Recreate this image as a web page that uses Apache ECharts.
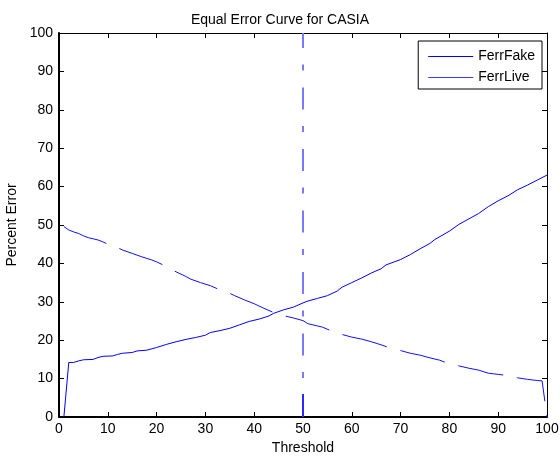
<!DOCTYPE html>
<html>
<head>
<meta charset="utf-8">
<title>Equal Error Curve for CASIA</title>
<script src="https://cdn.jsdelivr.net/npm/echarts@6/dist/echarts.min.js"></script>
<style>
  html, body { margin: 0; padding: 0; background: #fff; }
  #E1 { width: 560px; height: 458px; }
</style>
</head>
<body>
<div id="E1"></div>
<script>
// data
var fakeX = [1, 2, 3, 4, 5, 7, 8, 9, 11, 12, 13, 15, 16, 18, 20, 22, 24, 26, 28, 30,
    31, 33, 35, 37, 39, 41, 43, 44, 46, 48, 50, 51, 53, 55, 57, 58, 60, 62, 64, 66,
    67, 70, 72, 74, 76, 77, 80, 82, 84, 86, 88, 90, 92, 94, 96, 98, 100];
var fakeY = [0, 14.2, 14.2, 14.6, 14.9, 15.0, 15.5, 15.8, 15.9, 16.3, 16.6, 16.8, 17.2, 17.4, 18.1, 18.9, 19.6, 20.2, 20.7, 21.3,
    22.0, 22.5, 23.1, 24.0, 24.9, 25.5, 26.3, 27.0, 27.9, 28.6, 29.7, 30.2, 30.9, 31.6, 32.8, 33.8, 35.0, 36.2, 37.5, 38.6,
    39.6, 41.0, 42.3, 43.8, 45.2, 46.2, 48.4, 50.2, 51.6, 53.0, 54.8, 56.3, 57.6, 59.2, 60.4, 61.7, 63.0];

var liveX = [1, 2, 3, 4, 5, 6, 8, 9, 10, 12, 13, 15, 17, 19, 20, 22, 24, 26, 27, 29,
    31, 33, 35, 36, 38, 40, 42, 44, 46, 48, 50, 51, 53, 54, 56, 58, 60, 62, 64, 66,
    68, 70, 72, 74, 76, 78, 80, 82, 84, 86, 88, 90, 92, 94, 96, 98, 99, 100];
var liveY = [49.6, 48.7, 48.2, 47.8, 47.2, 46.7, 46.1, 45.6, 45.0, 44.1, 43.5, 42.6, 41.7, 40.9, 40.4, 39.2, 37.8, 36.6, 35.9, 35.0,
    34.2, 33.1, 32.2, 31.6, 30.5, 29.5, 28.3, 27.2, 26.4, 25.8, 25.1, 24.3, 23.7, 23.4, 22.3, 21.5, 20.8, 20.3, 19.6, 18.8,
    17.9, 17.3, 16.6, 16.1, 15.4, 14.8, 13.8, 13.3, 12.7, 12.2, 11.4, 11.1, 10.8, 10.2, 9.8, 9.5, 9.4, 0];

// equal error threshold marker
var eerX = [50, 50];
var eerY = [0, 100];
var eerStubY = [0, 6];

var seriesNames = ['FerrFake', 'FerrLive'];

var FONT = 'Liberation Sans, Arial, Helvetica, sans-serif';
var FS = 14;

var zip = function (xs, ys) {
    var out = [];
    for (var i = 0; i < xs.length; i++) {
        out.push([xs[i], ys[i]]);
    }
    return out;
};

var axisBase = function (pos, lineWidth, showLabel) {
    return {
        type: 'value',
        position: pos,
        min: 0,
        max: 100,
        interval: 10,
        axisLine: { show: true, onZero: false, lineStyle: { color: '#000', width: lineWidth } },
        axisTick: { show: true, inside: true, length: 5, lineStyle: { color: '#000' } },
        axisLabel: { show: showLabel, color: '#000', fontSize: FS, fontFamily: FONT },
        splitLine: { show: false }
    };
};

var xBottom = axisBase('bottom', 2, true);
xBottom.name = 'Threshold';
xBottom.nameLocation = 'middle';
xBottom.nameGap = 24;
xBottom.nameTextStyle = { color: '#000', fontSize: FS, fontFamily: FONT };
xBottom.axisLabel.margin = 5;

var yLeft = axisBase('left', 2, true);
yLeft.name = 'Percent Error';
yLeft.nameLocation = 'middle';
yLeft.nameGap = 35;
yLeft.nameTextStyle = { color: '#000', fontSize: FS, fontFamily: FONT };
yLeft.axisLabel.margin = 6;

var option = {
    backgroundColor: '#fff',
    animation: false,
    title: {
        left: 'center',
        top: 8,
        text: 'Equal Error Curve for CASIA',
        textStyle: { color: '#000', fontSize: FS, fontWeight: 'normal', fontFamily: FONT }
    },
    legend: {
        data: seriesNames,
        orient: 'vertical',
        right: 18,
        top: 41,
        icon: 'rect',
        itemWidth: 45,
        itemHeight: 1,
        itemGap: 6,
        padding: [8, 7, 4, 10],
        borderColor: '#000',
        borderWidth: 1,
        backgroundColor: '#fff',
        textStyle: { color: '#000', fontSize: FS, fontFamily: FONT, lineHeight: 15 }
    },
    grid: {
        left: 59,
        right: 13,
        top: 33,
        bottom: 41,
        outerBoundsMode: 'none'
    },
    xAxis: [xBottom, axisBase('top', 1, false)],
    yAxis: [yLeft, axisBase('right', 1, false)],
    series: [
        {
            name: 'FerrFake',
            type: 'line',
            symbol: 'none',
            data: zip(fakeX, fakeY),
            lineStyle: { color: '#0000ff', width: 1 },
            itemStyle: { color: '#0000ff' }
        },
        {
            name: 'FerrLive',
            type: 'line',
            symbol: 'none',
            data: zip(liveX, liveY),
            lineStyle: { color: '#1010ff', width: 1, type: [46, 14] },
            itemStyle: { color: '#3a3aff' }
        },
        {
            name: 'EER',
            type: 'line',
            symbol: 'none',
            data: zip(eerX, eerY),
            lineStyle: { color: '#7a7aff', width: 2, type: [22, 17, 6, 16.5] },
            z: 1
        },
        {
            name: 'EERstub',
            type: 'line',
            symbol: 'none',
            data: zip(eerX, eerStubY),
            lineStyle: { color: '#2a2aff', width: 2 },
            z: 1
        }
    ]
};

var chart = echarts.init(document.getElementById('E1'));
chart.setOption(option);
</script>
</body>
</html>
